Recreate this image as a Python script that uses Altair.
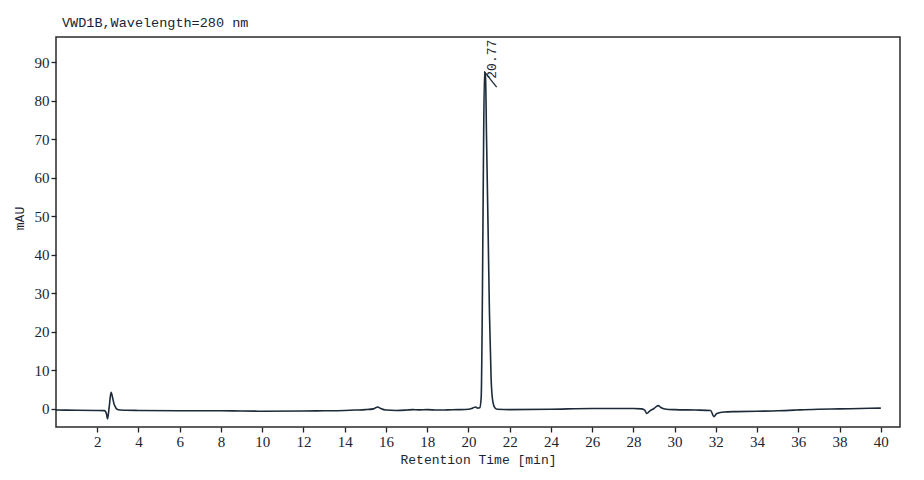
import altair as alt
import pandas as pd

# Chromatogram trace (time in min, signal in mAU)
times = [0.0, 1.0, 2.0, 2.35, 2.45, 2.5, 2.58, 2.67, 2.74, 2.82, 2.9, 2.96, 3.1, 3.4,
         4.0, 6.0, 8.0, 9.0, 10.0, 12.0, 13.0, 14.0, 14.5, 15.0, 15.4, 15.6, 15.75, 16.0,
         16.5, 17.0, 17.3, 17.6, 18.0, 18.5, 19.0, 19.5, 20.0, 20.2, 20.35, 20.45, 20.55,
         20.62, 20.68, 20.73, 20.78, 20.83, 20.88, 20.95, 21.02, 21.1, 21.18, 21.28, 21.4,
         22.0, 24.0, 26.0, 28.0, 28.4, 28.55, 28.65, 28.8, 29.0, 29.2, 29.35, 29.6, 30.0,
         31.0, 31.75, 31.9, 32.05, 32.4, 33.0, 34.0, 35.0, 35.9, 36.1, 37.0, 38.0, 39.0, 40.0]
signal = [-0.3, -0.35, -0.4, -0.45, -1.3, -2.6, 0.5, 4.3, 3.0, 1.2, 0.3, -0.1, -0.3, -0.35,
          -0.4, -0.5, -0.5, -0.55, -0.6, -0.55, -0.5, -0.4, -0.3, -0.2, 0.0, 0.5, 0.1, -0.3,
          -0.4, -0.3, -0.2, -0.25, -0.2, -0.3, -0.25, -0.2, -0.1, 0.2, 0.5, 0.2, 0.3,
          3.0, 30.0, 65.0, 87.5, 86.0, 70.0, 48.0, 25.0, 8.0, 2.0, 0.3, -0.1,
          -0.2, -0.1, 0.1, 0.1, 0.0, -0.3, -1.2, -0.5, 0.1, 0.85, 0.3, -0.1, -0.2,
          -0.3, -0.4, -2.0, -1.2, -0.8, -0.7, -0.6, -0.5, -0.3, -0.25, -0.1, 0.0, 0.1, 0.2]

peak_times = [20.77]
peak_heights = [87.5]
peak_labels = ["20.77"]

chart_title = ["VWD1B,Wavelength=280 nm"]

x_ticks = list(range(2, 41, 2))
y_ticks = list(range(0, 91, 10))

trace = pd.DataFrame({"t": times, "v": signal})
peaks = pd.DataFrame({"t": peak_times, "v": peak_heights, "label": peak_labels})
peaks["t2"] = peaks["t"] + 0.6
peaks["v2"] = peaks["v"] - 4.0
title_df = pd.DataFrame({"text": chart_title})

xscale = alt.Scale(domain=[0, 40.93], nice=False, zero=False)
yscale = alt.Scale(domain=[-4.7, 96.5], nice=False, zero=False)

line_color = "#1c2a3a"
text_color = "#1a2433"

x_axis = alt.Axis(values=x_ticks, title="Retention Time [min]", grid=False, domain=False,
                  tickSize=5, tickColor="#222222", tickWidth=1.3,
                  labelFont="Liberation Serif", labelFontSize=15, labelColor=text_color,
                  labelPadding=2,
                  titleFont="Liberation Mono", titleFontSize=13, titleFontWeight="normal",
                  titleColor=text_color, titlePadding=4)
y_axis = alt.Axis(values=y_ticks, title="mAU", grid=False, domain=False,
                  tickSize=5, tickColor="#222222", tickWidth=1.3,
                  labelFont="Liberation Serif", labelFontSize=15, labelColor=text_color,
                  labelPadding=2,
                  titleFont="Liberation Mono", titleFontSize=13, titleFontWeight="normal",
                  titleColor=text_color, titlePadding=8, titleY=181)

base_line = alt.Chart(trace).mark_line(color=line_color, strokeWidth=1.6, interpolate="monotone").encode(
    x=alt.X("t:Q", scale=xscale, axis=x_axis),
    y=alt.Y("v:Q", scale=yscale, axis=y_axis),
)

connector = alt.Chart(peaks).mark_rule(color=line_color, strokeWidth=1.3).encode(
    x=alt.X("t:Q", scale=xscale), y=alt.Y("v:Q", scale=yscale),
    x2="t2:Q", y2="v2:Q",
)

# angle 270: dx runs up the screen, dy runs right
label = alt.Chart(peaks).mark_text(angle=270, align="left", baseline="middle",
                                   font="Liberation Mono", fontSize=13, color=text_color,
                                   dx=-7, dy=8).encode(
    x=alt.X("t:Q", scale=xscale), y=alt.Y("v:Q", scale=yscale), text="label:N",
)

title_mark = alt.Chart(title_df).mark_text(align="left", baseline="alphabetic",
                                           font="Liberation Mono", fontSize=13.5,
                                           color=text_color).encode(
    x=alt.value(6), y=alt.value(-10), text="text:N",
)

chart = alt.layer(base_line, connector, label, title_mark).properties(
    width=844, height=390,
    autosize=alt.AutoSizeParams(type="none"),
    padding={"left": 48, "top": 29, "right": 16, "bottom": 45},
).configure(background="white").configure_view(stroke="#2a2a2a", strokeWidth=1.5)

chart.save("out.html", embed_options={"renderer": "svg", "actions": False})
